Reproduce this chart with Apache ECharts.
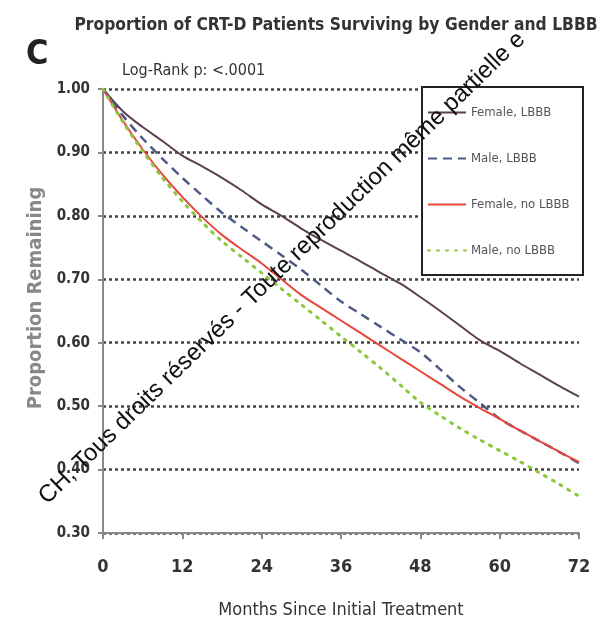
<!DOCTYPE html>
<html>
<head>
<meta charset="utf-8">
<script src="https://cdn.jsdelivr.net/npm/echarts@6/dist/echarts.min.js"></script>
<style>
html,body{margin:0;padding:0;background:#fff;}
#c{width:609px;height:627px;}
</style>
</head>
<body>
<div id="c"></div>
<script>
// ---- data ----
const months = [0,3,6,9,12,15,18,21,24,27,30,33,36,39,42,45,48,51,54,57,60,63,66,69,72];
const femaleLBBB   = [1.00,0.965,0.94,0.918,0.895,0.878,0.86,0.84,0.818,0.80,0.78,0.762,0.745,0.728,0.71,0.693,0.672,0.65,0.627,0.604,0.587,0.568,0.55,0.532,0.515];
const maleLBBB     = [1.00,0.958,0.922,0.89,0.86,0.832,0.805,0.782,0.76,0.738,0.715,0.69,0.665,0.645,0.625,0.605,0.585,0.558,0.53,0.505,0.48,0.462,0.445,0.428,0.41];
const femaleNoLBBB = [1.00,0.95,0.905,0.865,0.83,0.798,0.77,0.747,0.725,0.70,0.675,0.655,0.635,0.615,0.595,0.575,0.555,0.535,0.515,0.497,0.48,0.462,0.445,0.428,0.412];
const maleNoLBBB   = [1.00,0.948,0.902,0.86,0.823,0.79,0.76,0.735,0.71,0.685,0.66,0.635,0.61,0.585,0.56,0.533,0.506,0.485,0.465,0.447,0.43,0.413,0.395,0.377,0.358];
const seriesNames = ['Female, LBBB','Male, LBBB','Female, no LBBB','Male, no LBBB'];
const xTicks = [0,12,24,36,48,60,72];
const yTicks = [0.30,0.40,0.50,0.60,0.70,0.80,0.90,1.00];

const NARROW = '"Liberation Sans Narrow","DejaVu Sans Condensed",sans-serif';
const pair = arr => months.map((m,i)=>[m,arr[i]]);

const chart = echarts.init(document.getElementById('c'), null, {renderer:'canvas'});
chart.setOption({
  animation:false,
  backgroundColor:'#fff',
  title:[
    {text:'Proportion of CRT-D Patients Surviving by Gender and LBBB', left:331, top:12, textAlign:'center',
     textStyle:{fontFamily:NARROW, fontWeight:'bold', fontSize:17.3, color:'#333'}},
    {text:'C', left:21, top:33, textStyle:{fontFamily:NARROW, fontWeight:'bold', fontSize:34, color:'#222'}},
    {text:'Log-Rank p: <.0001', left:117, top:58, textStyle:{fontFamily:NARROW, fontWeight:'normal', fontSize:16, color:'#333'}}
  ],
  grid:{left:103, top:89, right:30, bottom:94, containLabel:false},
  legend:{
    data:seriesNames, orient:'vertical', left:427, top:106, padding:0,
    itemWidth:38, itemHeight:14, itemGap:33, z:5,
    itemStyle:{opacity:0},
    textStyle:{fontFamily:NARROW, fontSize:13, color:'#555'}
  },
  xAxis:{
    type:'value', min:0, max:72, interval:12,
    name:'Months Since Initial Treatment', nameLocation:'middle', nameGap:68,
    nameTextStyle:{fontFamily:NARROW, fontSize:18, color:'#333'},
    axisLine:{show:true, lineStyle:{color:'#888', width:2}},
    axisTick:{show:true, length:6, lineStyle:{color:'#888', width:2}},
    axisLabel:{fontFamily:NARROW, fontWeight:'bold', fontSize:18, color:'#333', margin:25,
      formatter:v=>xTicks.includes(v)?String(v):''},
    splitLine:{show:false}
  },
  yAxis:{
    type:'value', min:0.3, max:1.0, interval:0.1,
    name:'Proportion Remaining', nameLocation:'middle', nameGap:50,
    nameTextStyle:{fontFamily:NARROW, fontWeight:'bold', fontSize:20, color:'#888', padding:[0,0,0,26]},
    axisLine:{show:true, lineStyle:{color:'#888', width:2}},
    axisTick:{show:true, length:5, lineStyle:{color:'#888', width:2}},
    axisLabel:{fontFamily:NARROW, fontWeight:'bold', fontSize:15, color:'#333', margin:13,
      formatter:v=>{const t=yTicks.find(y=>Math.abs(y-v)<1e-6); return t!==undefined?t.toFixed(2):'';}},
    splitLine:{show:true, lineStyle:{color:'#444', width:2.5, type:[3,3]}}
  },
  graphic:[
    {type:'rect', z:3, shape:{x:422, y:87, width:161, height:188},
     style:{fill:'#fff', stroke:'#222', lineWidth:2}},
    {type:'text', z:10, x:282, y:268, rotation:0.77,
     style:{text:'CH, Tous droits réservés - Toute reproduction même partielle e', align:'center', verticalAlign:'middle',
       font:'24px "Liberation Sans", Arial, sans-serif', fill:'#111'}}
  ],
  series:[
    {name:seriesNames[0], type:'line', data:pair(femaleLBBB), symbol:'none', smooth:0.3,
     lineStyle:{color:'#5b3f52', width:2}, itemStyle:{color:'#5b3f52'}},
    {name:seriesNames[1], type:'line', data:pair(maleLBBB), symbol:'none', smooth:0.3,
     lineStyle:{color:'#4d5b85', width:2.5, type:[9,6]}, itemStyle:{color:'#4d5b85'}},
    {name:seriesNames[2], type:'line', data:pair(femaleNoLBBB), symbol:'none', smooth:0.3,
     lineStyle:{color:'#e8473c', width:2}, itemStyle:{color:'#e8473c'}},
    {name:seriesNames[3], type:'line', data:pair(maleNoLBBB), symbol:'none', smooth:0.3,
     lineStyle:{color:'#8dc63f', width:3, type:[2,7], cap:'round'}, itemStyle:{color:'#8dc63f'}}
  ]
});
</script>
</body>
</html>
